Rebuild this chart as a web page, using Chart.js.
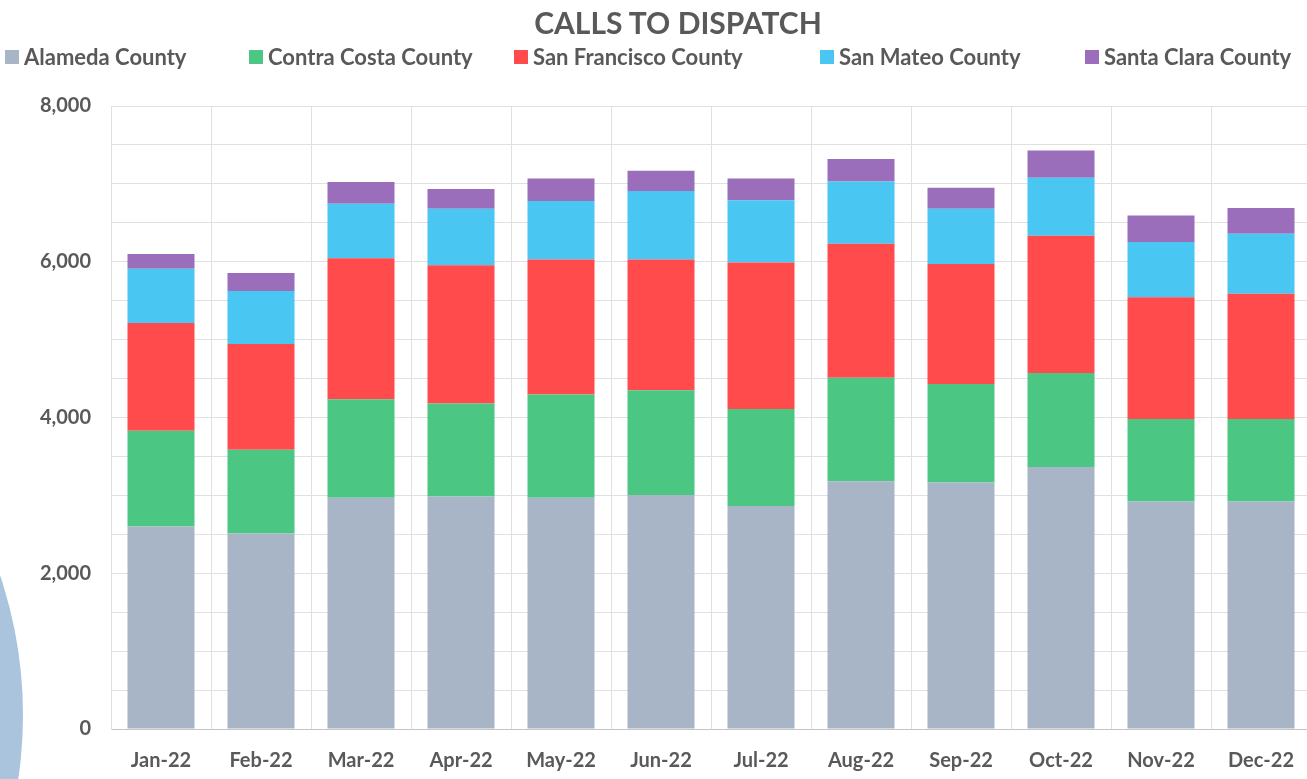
<!DOCTYPE html>
<html lang="en">
<head>
  <meta charset="UTF-8" />
  <title>Calls to Dispatch</title>
  <script src="https://cdn.jsdelivr.net/npm/chart.js"></script>
  <style>
    body { margin: 0; background: #fff; overflow: hidden; font-family: Lato, sans-serif; }
    #wrap { position: relative; width: 1307px; height: 779px; overflow: hidden; }
    #blob { position: absolute; left: -851px; top: 278px; width: 874px; height: 874px; border-radius: 50%; background: #a9c4dc; }
    #chartBox { position: absolute; left: 0; top: 0; width: 1314px; height: 779px; }
    #title { position: absolute; left: 0; top: 4px; width: 1356px; text-align: center; font-weight: 700; font-size: 30px; color: #595959; }
    #legend { position: absolute; left: 0; top: 43px; width: 1307px; height: 30px; font-weight: 700; font-size: 22px; color: #595959; }
    #legend span.item { position: absolute; top: 0; display: flex; align-items: center; white-space: nowrap; }
    #legend span.box { width: 14px; height: 14px; margin-right: 5px; display: inline-block; }
  </style>
</head>
<body>
  <div id="wrap">
    <div id="blob"></div>
    <div id="chartBox"><canvas id="callsChart"></canvas></div>
    <div id="title">CALLS TO DISPATCH</div>
    <div id="legend"></div>
  </div>

  <script>
    const months = ['Jan-22', 'Feb-22', 'Mar-22', 'Apr-22', 'May-22', 'Jun-22', 'Jul-22', 'Aug-22', 'Sep-22', 'Oct-22', 'Nov-22', 'Dec-22'];
    const alameda      = [2600, 2510, 2970, 2985, 2970, 3005, 2865, 3180, 3165, 3365, 2920, 2920];
    const contraCosta  = [1230, 1075, 1265, 1195, 1325, 1345, 1245, 1330, 1265, 1205, 1060, 1060];
    const sanFrancisco = [1385, 1360, 1810, 1775, 1735, 1680, 1880, 1720, 1540, 1765, 1565, 1610];
    const sanMateo     = [695, 680, 700, 725, 750, 880, 800, 800, 710, 745, 710, 770];
    const santaClara   = [190, 230, 280, 255, 290, 260, 280, 290, 270, 350, 340, 330];

    const yMax = 8000;
    const yStep = 500;
    const yLabelEvery = 2000;

    const seriesNames = ['Alameda County', 'Contra Costa County', 'San Francisco County', 'San Mateo County', 'Santa Clara County'];
    const seriesColors = ['#a8b5c7', '#4bc683', '#ff4b4b', '#4ac6f2', '#9a6eba'];
    const seriesData = [alameda, contraCosta, sanFrancisco, sanMateo, santaClara];

    // where each legend entry starts (px from left)
    const legendLeft = [5, 249, 514, 820, 1085];

    const textColor = '#595959';

    const ctx = document.getElementById('callsChart').getContext('2d');
    const chart = new Chart(ctx, {
      type: 'bar',
      data: {
        labels: months,
        datasets: seriesNames.map((name, i) => ({
          label: name,
          data: seriesData[i],
          backgroundColor: seriesColors[i],
          borderWidth: 0,
          barPercentage: 0.67,
          categoryPercentage: 1
        }))
      },
      options: {
        responsive: true,
        maintainAspectRatio: false,
        animation: false,
        layout: { padding: { top: 106, left: 0, right: 0, bottom: -14 } },
        plugins: {
          legend: { display: false },
          tooltip: { enabled: false }
        },
        scales: {
          x: {
            stacked: true,
            grid: { color: '#e0e0e0', drawTicks: false },
            border: { color: '#c4c4c4' },
            ticks: {
              color: textColor,
              padding: 20,
              font: { family: 'Lato', size: 20, weight: 'bold' }
            }
          },
          y: {
            stacked: true,
            min: 0,
            max: yMax,
            grid: { color: '#e0e0e0', drawTicks: false },
            border: { color: '#e0e0e0' },
            afterFit: (scale) => { scale.width = 111; },
            ticks: {
              stepSize: yStep,
              color: textColor,
              padding: 20,
              font: { family: 'Lato', size: 20, weight: 'bold' },
              callback: (v) => (v % yLabelEvery === 0 ? v.toLocaleString('en-US') : '')
            }
          }
        }
      }
    });

    // legend in html so the spacing can match
    const legend = document.getElementById('legend');
    chart.data.datasets.forEach((ds, i) => {
      const item = document.createElement('span');
      item.className = 'item';
      item.style.left = legendLeft[i] + 'px';
      item.innerHTML = `<span class="box" style="background:${ds.backgroundColor}"></span>${ds.label}`;
      legend.appendChild(item);
    });
  </script>
</body>
</html>
